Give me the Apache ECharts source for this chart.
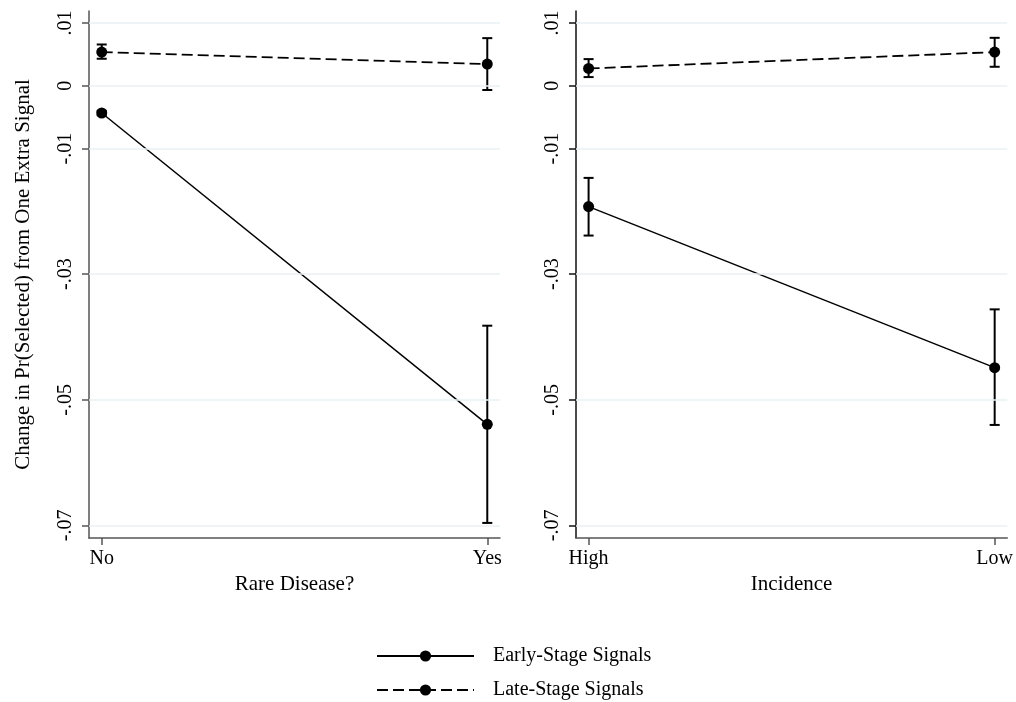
<!DOCTYPE html>
<html>
<head>
<meta charset="utf-8">
<script src="https://cdn.jsdelivr.net/npm/echarts@6/dist/echarts.min.js"></script>
<style>html,body{margin:0;padding:0;background:#fff;}#c{width:1016px;height:702px;}</style>
</head>
<body>
<div id="c"></div>
<script>
// ---- data ----
const catsLeft = ['No', 'Yes'];
const catsRight = ['High', 'Low'];
const yTicks = [0.01, 0, -0.01, -0.03, -0.05, -0.07];
const yTickLabels = ['.01', '0', '-.01', '-.03', '-.05', '-.07'];

const earlyLeft = [-0.00434, -0.0539];
const earlyLeftLo = [-0.0047, -0.0696];
const earlyLeftHi = [-0.0040, -0.0382];
const lateLeft = [0.00536, 0.00345];
const lateLeftLo = [0.0043, -0.00068];
const lateLeftHi = [0.00657, 0.00758];

const earlyRight = [-0.01924, -0.04488];
const earlyRightLo = [-0.02385, -0.0540];
const earlyRightHi = [-0.01467, -0.0356];
const lateRight = [0.00275, 0.00536];
const lateRightLo = [0.00138, 0.00302];
const lateRightHi = [0.00424, 0.00763];

const seriesNames = ['Early-Stage Signals', 'Late-Stage Signals'];
const yTitle = 'Change in Pr(Selected) from One Extra Signal';
const xTitles = ['Rare Disease?', 'Incidence'];

// ---- chart ----
const FONT = "'Liberation Serif', 'Times New Roman', serif";
const chart = echarts.init(document.getElementById('c'), null, {renderer: 'canvas'});

function yLabel(v) {
  for (let i = 0; i < yTicks.length; i++) if (Math.abs(yTicks[i] - v) < 1e-9) return yTickLabels[i];
  return '';
}
function pts(vals) { return vals.map((v, i) => [i, v]); }
function errData(lo, hi) { return lo.map((l, i) => [i, l, hi[i]]); }
function renderErr(params, api) {
  const x = api.value(0), lo = api.value(1), hi = api.value(2);
  const p1 = api.coord([x, lo]), p2 = api.coord([x, hi]);
  const w = 5, st = {stroke: '#000', lineWidth: 2};
  return {type: 'group', children: [
    {type: 'line', shape: {x1: p1[0], y1: p1[1], x2: p2[0], y2: p2[1]}, style: st},
    {type: 'line', shape: {x1: p1[0] - w, y1: p1[1], x2: p1[0] + w, y2: p1[1]}, style: st},
    {type: 'line', shape: {x1: p2[0] - w, y1: p2[1], x2: p2[0] + w, y2: p2[1]}, style: st}
  ]};
}

function xAxis(idx, cats, title, pad, lineColor) {
  return {
    type: 'value', gridIndex: idx, min: -pad, max: 1 + pad,
    name: title, nameLocation: 'middle', nameGap: 30,
    nameTextStyle: {fontFamily: FONT, fontSize: 21, color: '#000'},
    axisLine: {show: true, onZero: false, lineStyle: {color: lineColor, width: 1.5}},
    axisTick: {show: true, length: 7, customValues: [0, 1], lineStyle: {color: lineColor, width: 1.5}},
    axisLabel: {customValues: [0, 1], formatter: v => cats[Math.round(v)], margin: 11,
      fontFamily: FONT, fontSize: 20, color: '#000'},
    splitLine: {show: false}
  };
}
function yAxis(idx, title, lineColor) {
  return {
    type: 'value', gridIndex: idx, min: -0.072, max: 0.0119,
    name: title, nameLocation: 'middle', nameGap: 55,
    nameTextStyle: {fontFamily: FONT, fontSize: 21, color: '#000'},
    axisLine: {show: true, onZero: false, lineStyle: {color: lineColor, width: 1.5}},
    axisTick: {show: true, length: 7, customValues: yTicks, lineStyle: {color: lineColor, width: 1.5}},
    axisLabel: {customValues: yTicks, formatter: yLabel, rotate: 90, margin: 13,
      fontFamily: FONT, fontSize: 20, color: '#000'},
    splitLine: {show: false}
  };
}
function gridSeries(idx) {
  return {
    type: 'line', name: 'grid' + idx, xAxisIndex: idx, yAxisIndex: idx, data: [], z: 0,
    silent: true,
    markLine: {silent: true, symbol: 'none', animation: false, label: {show: false},
      lineStyle: {type: 'solid', color: '#eaf2f3', width: 1.5},
      data: yTicks.map(v => ({yAxis: v}))}
  };
}
function lineSeries(idx, name, vals, dashed) {
  return {
    type: 'line', name: name, xAxisIndex: idx, yAxisIndex: idx, data: pts(vals),
    symbol: 'circle', symbolSize: 11, z: 3, animation: false,
    itemStyle: {color: '#000'},
    lineStyle: {color: '#000', width: dashed ? 1.8 : 1.5, type: dashed ? [11, 5] : 'solid'}
  };
}
function errSeries(idx, lo, hi) {
  return {
    type: 'custom', name: 'err', xAxisIndex: idx, yAxisIndex: idx, z: 2,
    data: errData(lo, hi), renderItem: renderErr, animation: false,
    encode: {x: 0, y: [1, 2]}
  };
}
function legend(name, top) {
  return {
    data: [name], orient: 'vertical', left: 371, top: top,
    itemWidth: 97, itemHeight: 14,
    textStyle: {fontFamily: FONT, fontSize: 20, color: '#000', padding: [0, 0, 0, 14]},
    selectedMode: false
  };
}

const option = {
  backgroundColor: '#fff',
  animation: false,
  grid: [
    {left: 89, top: 11, width: 411, height: 527, containLabel: false},
    {left: 576, top: 11, width: 435, height: 527, containLabel: false}
  ],
  xAxis: [xAxis(0, catsLeft, xTitles[0], 0.033, '#555'), xAxis(1, catsRight, xTitles[1], 0.031, '#555')],
  yAxis: [yAxis(0, yTitle, '#555'), yAxis(1, '', '#111')],
  legend: [legend(seriesNames[0], 641), legend(seriesNames[1], 675)],
  series: [
    gridSeries(0), gridSeries(1),
    errSeries(0, earlyLeftLo, earlyLeftHi), errSeries(0, lateLeftLo, lateLeftHi),
    errSeries(1, earlyRightLo, earlyRightHi), errSeries(1, lateRightLo, lateRightHi),
    lineSeries(0, seriesNames[0], earlyLeft, false), lineSeries(0, seriesNames[1], lateLeft, true),
    lineSeries(1, seriesNames[0], earlyRight, false), lineSeries(1, seriesNames[1], lateRight, true)
  ]
};
chart.setOption(option);
</script>
</body>
</html>
